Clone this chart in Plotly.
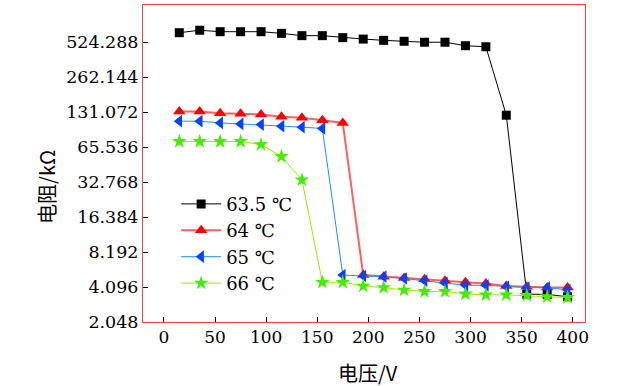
import plotly.graph_objects as go
import math

voltage = [15, 35, 55, 75, 95, 115, 135, 155, 175, 195, 215, 235, 255, 275, 295, 315, 335, 355, 375, 395]

r_635 = [634, 666, 647, 647, 647, 626, 598, 598, 575, 559, 545, 535, 525, 525, 490, 480, 123.5, 3.56, 3.54, 3.38]
r_64 = [132.9, 132.9, 128.5, 127, 125.5, 119.6, 117.3, 111.8, 106, 5.19, 5.03, 4.9, 4.78, 4.64, 4.5, 4.4, 4.18, 4.12, 4.05, 4.05]
r_65 = [109.7, 109.7, 106, 104, 102.6, 99.4, 97.5, 95, 5.19, 5.1, 5.03, 4.85, 4.64, 4.43, 4.24, 4.24, 4.12, 4.05, 4.05, 3.86]
r_66 = [73.4, 73.4, 73.4, 73.4, 69, 54.5, 34.3, 4.5, 4.5, 4.18, 4.05, 3.86, 3.75, 3.75, 3.57, 3.51, 3.51, 3.47, 3.38, 3.33]

names = ["63.5 ℃", "64 ℃", "65 ℃", "66 ℃"]
y_tickvals = [2.048, 4.096, 8.192, 16.384, 32.768, 65.536, 131.072, 262.144, 524.288]
y_ticktext = ["2.048", "4.096", "8.192", "16.384", "32.768", "65.536", "131.072", "262.144", "524.288"]
x_tickvals = [0, 50, 100, 150, 200, 250, 300, 350, 400]
x_title = "电压/V"
y_title = "电阻/kΩ"

SERIF = "DejaVu Serif"
CJK = "Noto Sans CJK SC"

styles = [
    dict(line=dict(color="#000000", width=1), marker=dict(symbol="square", size=9, color="#000000")),
    dict(line=dict(color="#FF6060", width=2), marker=dict(symbol="triangle-up", size=11, color="#FF0000")),
    dict(line=dict(color="#1E90FF", width=1), marker=dict(symbol="triangle-left", size=11, color="#0044FF")),
    dict(line=dict(color="#99EE00", width=1), marker=dict(symbol="star", size=11, color="#44EE00")),
]

fig = go.Figure()
for name, ys, st in zip(names, [r_635, r_64, r_65, r_66], styles):
    fig.add_trace(go.Scatter(x=voltage, y=ys, name=name, mode="lines+markers",
                             line=st["line"], marker=st["marker"]))

fig.update_layout(
    width=630, height=386,
    margin=dict(l=143, r=45, t=5, b=64),
    paper_bgcolor="white", plot_bgcolor="white",
    font=dict(family=SERIF, size=17, color="#000000"),
    showlegend=True,
    legend=dict(x=0.075, y=0.43, xanchor="left", yanchor="top",
                bgcolor="rgba(0,0,0,0)", font=dict(size=18, family=SERIF),
                tracegroupgap=0, itemwidth=40),
    annotations=[
        dict(text=x_title, xref="paper", yref="paper", x=0.509, y=-0.158,
             xanchor="center", yanchor="middle", showarrow=False,
             font=dict(size=20, family=CJK, color="#000000")),
        dict(text=y_title, xref="paper", yref="paper", x=-0.218, y=0.425,
             xanchor="center", yanchor="middle", showarrow=False, textangle=-90,
             font=dict(size=20, family=CJK, color="#000000")),
    ],
)
fig.update_xaxes(
    range=[-20.5, 412], tickvals=x_tickvals, showgrid=False, zeroline=False,
    showline=True, linecolor="#FF4040", linewidth=1, mirror=True,
    ticks="inside", ticklen=5, tickcolor="#000000",
    tickfont=dict(family=SERIF, size=17),
)
fig.update_yaxes(
    type="log", range=[math.log10(2.048), 3.0407], tickvals=y_tickvals, ticktext=y_ticktext,
    showgrid=False, zeroline=False,
    showline=True, linecolor="#FF4040", linewidth=1, mirror=True,
    ticks="inside", ticklen=5, tickcolor="#000000",
    tickfont=dict(family=SERIF, size=17.5),
)
fig.write_html("out.html", post_script="document.body.style.margin='0';",
               config={"displayModeBar": False})
